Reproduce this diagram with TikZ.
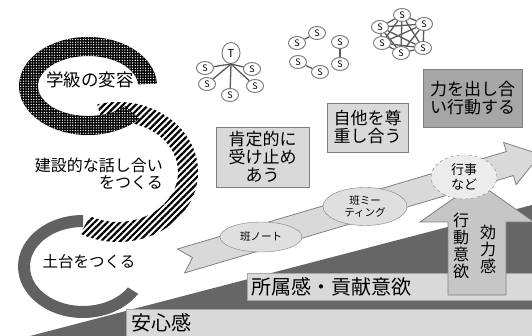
\documentclass[tikz,border=0pt]{standalone}
\usepackage{fontspec}
\setmainfont{Noto Sans CJK JP}
\usepackage{xcolor}
\usepackage{tikz}
\usetikzlibrary{shapes.geometric, patterns.meta}

\newcommand{\jsize}[2]{\fontsize{#1}{#2}\selectfont}

\begin{document}
\begin{tikzpicture}[
    x=1pt, y=1pt,
    band/.style={draw=gray!70, fill=gray!30},
    bandtext/.style={anchor=west, inner sep=0pt, font=\jsize{20}{20}},
    ringtext/.style={align=center, inner sep=0pt},
    stepbox/.style={rectangle, draw=gray, fill=gray!30, align=center, inner sep=0pt, font=\jsize{17}{18}},
    evt/.style={ellipse, draw=gray, fill=gray!25, inner sep=0pt, align=center, font=\jsize{10.5}{12.5}},
    snode/.style={ellipse, draw=gray, fill=white, line width=1pt, inner sep=0pt, minimum width=17pt, minimum height=13pt, font=\jsize{9}{9}},
    tnode/.style={ellipse, draw=gray, fill=white, line width=1pt, inner sep=0pt, minimum width=18pt, minimum height=21pt, font=\jsize{11}{11}},
    link/.style={draw=black!65, line width=1.3pt},
    bigarrow/.style={draw=gray, fill=gray!30, line width=0.8pt},
]
    \useasboundingbox (0,0) rectangle (532,336);
    \clip (0,0) rectangle (532,336);

    % ===== BASE: slope and bands =====
    \fill[black!60] (30,0) -- (532,131) -- (532,0) -- cycle;
    \draw[band] (126,0) rectangle (536,27);
    \node[bandtext] (anshin) at (131,13.5) {安心感};
    \draw[band] (247,36) rectangle (536,63);
    \node[bandtext] (shozoku) at (251,49.5) {所属感・貢献意欲};

    % ===== RINGS =====
    \fill[black!62] (83,69.5) ++(90:65 and 51.5) arc[start angle=90, end angle=328, x radius=65, y radius=51.5]
        -- ++(148:12) arc[start angle=328, end angle=90, x radius=53, y radius=39.5] -- cycle;
    \path[preaction={fill=white}, pattern={Lines[angle=45, distance=4.5pt, line width=2.2pt]}, pattern color=black]
        (118,164) ++(105:80 and 70) arc[start angle=105, end angle=-118, x radius=80, y radius=70]
        -- ++(62:20) arc[start angle=-118, end angle=105, x radius=60, y radius=50] -- cycle;
    \path[preaction={fill=black}, pattern={Dots[distance=2.6pt, radius=0.7pt]}, pattern color=white]
        (88,250) ++(3:69 and 49) arc[start angle=3, end angle=318, x radius=69, y radius=49]
        -- ++(138:19) arc[start angle=318, end angle=3, x radius=50, y radius=30] -- cycle;

    \node[ringtext, font=\jsize{17.5}{17.5}] (change) at (90,256) {学級の変容};
    \node[ringtext, align=right, anchor=east, font=\jsize{16}{17}] (talk) at (163,162.5) {建設的な話し合い\\をつくる};
    \node[ringtext, font=\jsize{15.5}{15.5}] (base) at (89,74) {土台をつくる};

    % ===== ARROWS =====
    \filldraw[draw=gray, fill=gray!45, line width=0.8pt] (448,41) -- (506,41) -- (506,114) -- (534,114)
        -- (477,154) -- (420,114) -- (448,114) -- cycle;
    \node[font=\jsize{16}{17}, align=center, inner sep=0pt] (yoku) at (461,90.5) {行\\動\\意\\欲};
    \node[font=\jsize{16}{17}, align=center, inner sep=0pt] (koryoku) at (488,86.5) {効\\力\\感};

    \begin{scope}[shift={(181,75)}, rotate=16.5]
        \filldraw[bigarrow] (0,12.5) -- (12,0) -- (0,-12.5) -- (343,-12.5) -- (343,-22) -- (375,0)
            -- (343,22) -- (343,12.5) -- cycle;
    \end{scope}

    % Ellipses on the arrow
    \node[evt, minimum width=82pt, minimum height=30pt] (note) at (261,99) {班ノート};
    \node[evt, minimum width=84pt, minimum height=38pt] (meeting) at (365,129.5) {班ミー\\ティング};
    \node[evt, dashed, fill=gray!15, minimum width=66pt, minimum height=44pt, font=\jsize{13}{15}] (event) at (464,159) {行事\\など};

    % ===== BOXES =====
    \node[stepbox, minimum width=93pt, minimum height=60pt] (accept) at (262.5,179) {肯定的に\\受け止め\\あう};
    \node[stepbox, minimum width=81pt, minimum height=49pt] (respect) at (367.5,208.5) {自他を尊\\重し合う};
    \node[stepbox, fill=gray!70, minimum width=99pt, minimum height=58pt] (act) at (472.5,238) {力を出し合\\い行動する};

    % ===== ICONS =====
    % Teacher at the centre
    \node[tnode] (T) at (231,283) {T};
    \node[snode] (s1) at (205,268) {S};
    \node[snode] (s2) at (252,267) {S};
    \node[snode] (s3) at (207,252) {S};
    \node[snode] (s4) at (255,250) {S};
    \node[snode] (s5) at (230,241) {S};
    \coordinate (hub) at (T.south);
    \foreach \i in {1,...,5}
        \draw[link] (hub) -- (s\i);

    % Pairs
    \node[snode] (p1) at (297,293) {S};
    \node[snode] (p2) at (317,303) {S};
    \node[snode] (p3) at (298,274) {S};
    \node[snode] (p4) at (320,264) {S};
    \node[snode] (p5) at (340,294) {S};
    \node[snode] (p6) at (340,272) {S};
    \draw[link] (p1) -- (p2);
    \draw[link] (p3) -- (p4);
    \draw[link] (p5) -- (p6);

    % Whole group
    \node[snode] (m1) at (402,321) {S};
    \node[snode] (m2) at (424,312) {S};
    \node[snode] (m3) at (380,309) {S};
    \node[snode] (m4) at (382,293) {S};
    \node[snode] (m5) at (401,283) {S};
    \node[snode] (m6) at (423,288) {S};
    \foreach \i [evaluate=\i as \k using int(\i+1)] in {1,...,5}
        \foreach \j in {\k,...,6}
            \draw[link] (m\i) -- (m\j);

\end{tikzpicture}
\end{document}
